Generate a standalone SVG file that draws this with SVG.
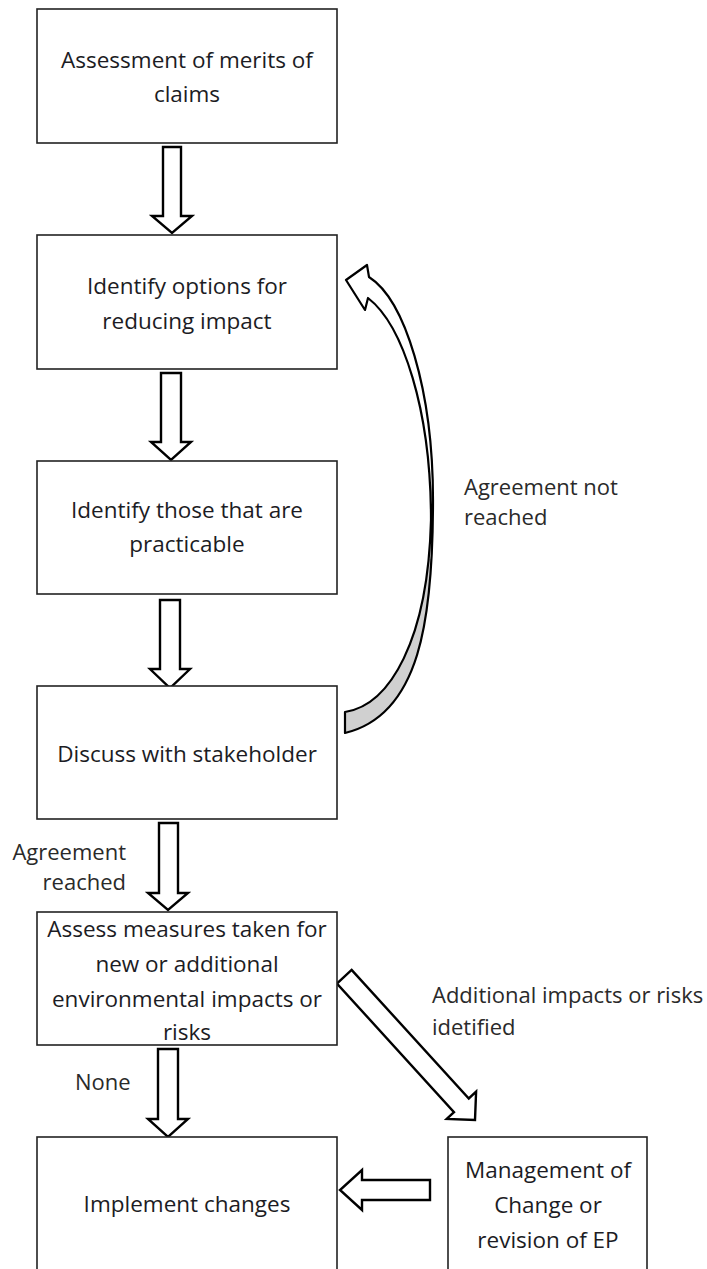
<svg xmlns="http://www.w3.org/2000/svg" width="707" height="1269" viewBox="0 0 707 1269">
<style>
.box{fill:#fff;stroke:#222;stroke-width:1.6}
.arr{fill:#fff;stroke:#000;stroke-width:2.4;stroke-linejoin:miter}
.t{font-family:"Open Sans","Liberation Sans",sans-serif;font-size:22.5px;fill:#1c1c24;text-anchor:middle}
.l{font-family:"Open Sans","Liberation Sans",sans-serif;font-size:22px;fill:#2a2a2a}
</style>
<defs>
<linearGradient id="rib" gradientUnits="userSpaceOnUse" x1="0" y1="250" x2="0" y2="740">
<stop offset="0" stop-color="#fff"/>
<stop offset="0.63" stop-color="#fff"/>
<stop offset="0.63" stop-color="#d0d0d0"/>
<stop offset="1" stop-color="#d0d0d0"/>
</linearGradient>
</defs>
<rect width="707" height="1269" fill="#fff"/>
<g id="connectors">
<polygon class="arr" points="163,147 181,147 181,216 192,216 172,233 152,216 163,216"/>
<polygon class="arr" points="161,373 181,373 181,442 191,442 171,460 151,442 161,442"/>
<polygon class="arr" points="160,600 180,600 180,669 190,669 170,688 150,669 160,669"/>
<polygon class="arr" points="159,823 178,823 178,893 188,893 168,910 148,893 159,893"/>
<polygon class="arr" points="158,1049 178,1049 178,1119 188,1119 168,1137 148,1119 158,1119"/>
<polygon class="arr" points="351.6,969.9 468.8,1098.5 476.1,1091.7 475,1120 446.7,1118.9 454,1112.1 336.9,983.5"/>
<polygon class="arr" points="430,1180 430,1200 362,1200 362,1210 340,1190 362,1170 362,1180"/>
<path d="M346,280 L367,265 L369,277 C405,300 433,390 433,500 C433,620 420,715 345,733 L345,712 C390,705 428,640 431,520 C431,410 403,325 368,298 L365,310 Z" fill="url(#rib)" stroke="#000" stroke-width="2.2" stroke-linejoin="round"/>
</g>
<g id="n1"><rect class="box" x="37" y="9" width="300" height="134"/>
<text class="t" x="187" y="68">Assessment of merits of</text><text class="t" x="187" y="102">claims</text></g>
<g id="n2"><rect class="box" x="37" y="235" width="300" height="134"/>
<text class="t" x="187" y="294">Identify options for</text><text class="t" x="187" y="329">reducing impact</text></g>
<g id="n3"><rect class="box" x="37" y="461" width="300" height="133"/>
<text class="t" x="187" y="518">Identify those that are</text><text class="t" x="187" y="552">practicable</text></g>
<g id="n4"><rect class="box" x="37" y="686" width="300" height="133"/>
<text class="t" x="187" y="762">Discuss with stakeholder</text></g>
<g id="n5"><rect class="box" x="37" y="912" width="300" height="133"/>
<text class="t" x="187" y="937">Assess measures taken for</text><text class="t" x="187" y="972">new or additional</text><text class="t" x="187" y="1007">environmental impacts or</text><text class="t" x="187" y="1040">risks</text></g>
<g id="n6"><rect class="box" x="37" y="1137" width="300" height="150"/>
<text class="t" x="187" y="1212">Implement changes</text></g>
<g id="n7"><rect class="box" x="448" y="1137" width="199" height="150"/>
<text class="t" x="548" y="1178">Management of</text><text class="t" x="548" y="1213">Change or</text><text class="t" x="548" y="1248">revision of EP</text></g>
<g id="labels">
<text class="l" x="464" y="495">Agreement not</text><text class="l" x="464" y="525">reached</text>
<text class="l" x="126" y="860" text-anchor="end">Agreement</text><text class="l" x="126" y="890" text-anchor="end">reached</text>
<text class="l" x="75" y="1090">None</text>
<text class="l" x="432" y="1003">Additional impacts or risks</text><text class="l" x="432" y="1035">idetified</text>
</g>
</svg>
